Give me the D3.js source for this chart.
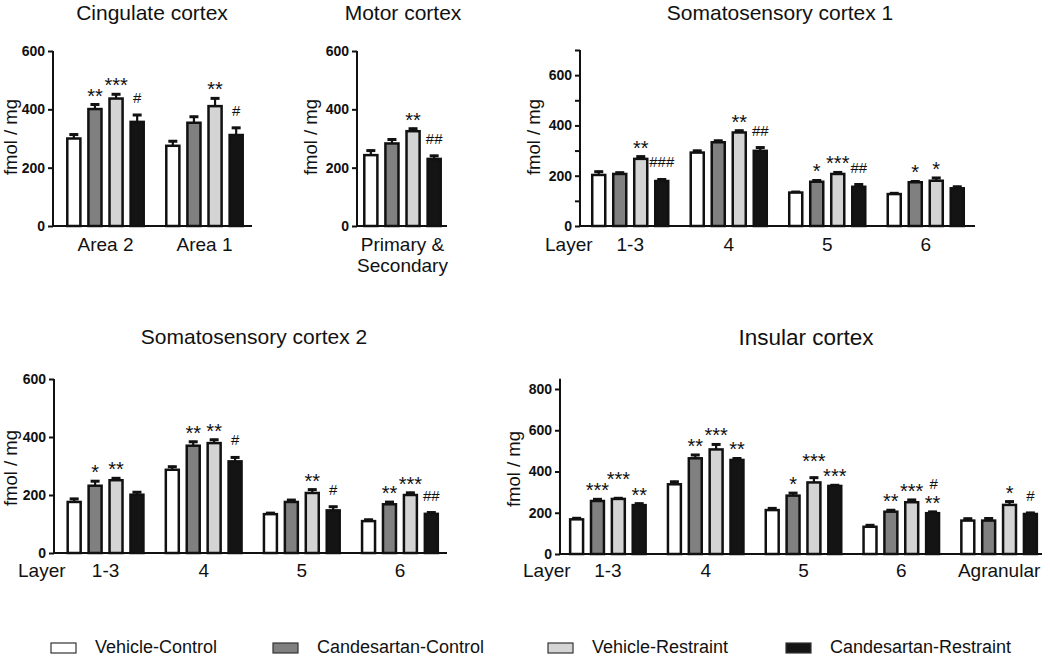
<!DOCTYPE html>
<html><head><meta charset="utf-8">
<script src="https://cdn.jsdelivr.net/npm/d3@7"></script>
<style>
body{margin:0;background:#fff}
svg{display:block}
text{font-family:Arial,"Liberation Sans",Helvetica,sans-serif;fill:#111}
</style>
</head><body>
<svg id="chart" width="1050" height="658"></svg>
<script>
// ---------- DATA ----------
const seriesNames = ["Vehicle-Control","Candesartan-Control","Vehicle-Restraint","Candesartan-Restraint"];
const seriesColors = ["#ffffff","#808080","#d4d4d4","#141414"];

const cingCats = ["Area 2","Area 1"];
const cingMean = [[300,401,437,357],[275,354,411,312]];
const cingSem  = [[17,19,18,27],[19,24,30,28]];
const cingStars = [["","**","***",""],["","","**",""]];
const cingHash  = [["","","","#"],["","","","#"]];

const motorCats = ["Primary &\nSecondary"];
const motorMean = [[243,283,325,230]];
const motorSem  = [[19,17,12,14]];
const motorStars = [["","","**",""]];
const motorHash  = [["","","","##"]];

const ss1Cats = ["1-3","4","5","6"];
const ss1Mean = [[203,207,267,179],[292,333,372,299],[133,176,207,156],[127,174,180,150]];
const ss1Sem  = [[17,9,13,10],[11,10,11,17],[6,9,10,13],[7,7,15,10]];
const ss1Stars = [["","","**",""],["","","**",""],["","*","***",""],["","*","*",""]];
const ss1Hash  = [["","","","###"],["","","","##"],["","","","##"],["","","",""]];

const ss2Cats = ["1-3","4","5","6"];
const ss2Mean = [[176,232,251,201],[287,370,379,316],[134,176,207,147],[110,168,200,135]];
const ss2Sem  = [[14,19,10,12],[14,17,15,17],[7,10,15,16],[8,11,11,8]];
const ss2Stars = [["","*","**",""],["","**","**",""],["","","**",""],["","**","***",""]];
const ss2Hash  = [["","","",""],["","","","#"],["","","","#"],["","","","##"]];

const insCats = ["1-3","4","5","6","Agranular"];
const insMean = [[168,257,267,237],[338,464,507,456],[213,283,347,330],[132,205,251,198],[162,162,238,194]];
const insSem  = [[10,13,8,12],[17,21,29,12],[13,17,28,8],[12,12,16,11],[14,15,21,10]];
const insStars = [["","***","***","**"],["","**","***","**"],["","*","***","***"],["","**","***","**"],["","","*",""]];
const insHash  = [["","","",""],["","","",""],["","","",""],["","","","#"],["","","","#"]];

const yLabel = "fmol / mg";
const layerLabel = "Layer";

// ---------- LAYOUT ----------
const panels = [
  {title:"Cingulate cortex", tx:152, ty:19.5, tsize:21, cats:cingCats, mean:cingMean, sem:cingSem, stars:cingStars, hash:cingHash,
   x0:53, x1:252, band:[56,254], y0:226, yMaxPx:51, max:600, axisMax:600, ticks:[0,200,400,600], ylx:17, lyly:137, catY:251, layer:null, lift:{}},
  {title:"Motor cortex", tx:403, ty:19.5, tsize:21, cats:motorCats, mean:motorMean, sem:motorSem, stars:motorStars, hash:motorHash,
   x0:357, x1:447, band:[353,452], y0:226, yMaxPx:51, max:600, axisMax:600, ticks:[0,200,400,600], ylx:317, lyly:137, catY:251, layer:null, lift:{}},
  {title:"Somatosensory cortex 1", tx:780, ty:19.5, tsize:21, cats:ss1Cats, mean:ss1Mean, sem:ss1Sem, stars:ss1Stars, hash:ss1Hash,
   x0:580, x1:975, band:[581,975], y0:226, yMaxPx:50, max:700, axisMax:700, ticks:[0,100,200,300,400,500,600,700], ylx:540, lyly:137, catY:251, layer:545, lift:{}},
  {title:"Somatosensory cortex 2", tx:254, ty:344, tsize:21, cats:ss2Cats, mean:ss2Mean, sem:ss2Sem, stars:ss2Stars, hash:ss2Hash,
   x0:54, x1:447, band:[56.5,449], y0:553, yMaxPx:379, max:600, axisMax:600, ticks:[0,200,400,600], ylx:17, lyly:468, catY:577, layer:18, lift:{}},
  {title:"Insular cortex", tx:806, ty:345, tsize:22.5, cats:insCats, mean:insMean, sem:insSem, stars:insStars, hash:insHash,
   x0:560, x1:1042, band:[559,1048], y0:554, yMaxPx:389, max:800, axisMax:850, ticks:[0,200,400,600,800], ylx:520, lyly:469, catY:577, layer:523,
   lift:{"0-2":10, "2-2":8}}
];

const svg = d3.select("#chart");

panels.forEach(p => {
  const g = svg.append("g");
  const y = d3.scaleLinear().domain([0, p.max]).range([p.y0, p.yMaxPx]);
  const xb = d3.scaleBand().domain(p.cats).range(p.band).paddingInner(0.147).paddingOuter(0.0735);
  const xs = d3.scaleBand().domain(d3.range(seriesNames.length)).range([0, xb.bandwidth()]).paddingInner(0.38).paddingOuter(0.19);

  g.append("text").attr("x", p.tx).attr("y", p.ty).attr("text-anchor","middle")
    .style("font-size", p.tsize+"px").text(p.title);

  const ax = d3.axisLeft(y).tickValues(p.ticks).tickSize(5).tickPadding(3).tickSizeOuter(0)
    .tickFormat(v => (v % 200 === 0) ? v : "");
  const ag = g.append("g").attr("transform", `translate(${p.x0},0)`).call(ax);
  ag.select(".domain").remove();
  ag.selectAll(".tick line").attr("stroke","#111").attr("stroke-width",2);
  ag.selectAll(".tick text").style("font-size","14px").style("font-weight","bold").attr("fill","#111");
  g.append("line").attr("x1",p.x0).attr("x2",p.x0).attr("y1",p.y0+1).attr("y2",y(p.axisMax))
    .attr("stroke","#111").attr("stroke-width",2);
  g.append("line").attr("x1",p.x0-1).attr("x2",p.x1).attr("y1",p.y0).attr("y2",p.y0)
    .attr("stroke","#111").attr("stroke-width",2);

  g.append("text").attr("transform", `translate(${p.ylx},${p.lyly}) rotate(-90)`)
    .attr("text-anchor","middle").style("font-size","18.5px").text(yLabel);

  p.cats.forEach((c, ci) => {
    const gx = xb(c);
    seriesNames.forEach((s, si) => {
      const v = p.mean[ci][si], e = p.sem[ci][si];
      const bx = gx + xs(si), bw = xs.bandwidth(), cx = bx + bw/2;
      const top = y(v + e);
      g.append("line").attr("x1",cx).attr("x2",cx).attr("y1",y(v)).attr("y2",top)
        .attr("stroke","#111").attr("stroke-width",2.2);
      g.append("line").attr("x1",cx-4.5).attr("x2",cx+4.5).attr("y1",top+1).attr("y2",top+1)
        .attr("stroke","#111").attr("stroke-width",3);
      g.append("rect").attr("x",bx).attr("y",y(v)).attr("width",bw).attr("height",p.y0 - y(v))
        .attr("fill",seriesColors[si]).attr("stroke","#111").attr("stroke-width",2.5);
      const st = p.stars[ci][si], hs = p.hash[ci][si];
      const lift = p.lift[ci + "-" + si] || 0;
      if (st) g.append("text").attr("x",cx).attr("y",top-1-lift).attr("text-anchor","middle")
        .style("font-size","20px").text(st);
      if (hs) g.append("text").attr("x",cx + (st ? 1 : 0)).attr("y", st ? top-22 : top-11).attr("text-anchor","middle")
        .style("font-size","15px").text(hs);
    });
    const lines = c.split("\n");
    lines.forEach((ln, li) => {
      g.append("text").attr("x", gx + xb.bandwidth()/2).attr("y", p.catY + li*21)
        .attr("text-anchor","middle").style("font-size","19px").text(ln);
    });
  });
  if (p.layer !== null) {
    g.append("text").attr("x", p.layer).attr("y", p.catY).style("font-size","19px").text(layerLabel);
  }
});

// legend
const legendX = [51, 273, 548, 786];
const lg = svg.append("g");
seriesNames.forEach((s, i) => {
  lg.append("rect").attr("x", legendX[i]).attr("y", 643).attr("width", 25).attr("height", 10)
    .attr("fill", seriesColors[i]).attr("stroke", "#333").attr("stroke-width", 1.2);
  lg.append("text").attr("x", legendX[i] + 44).attr("y", 653).style("font-size","18px").text(s);
});
</script>
</body></html>
